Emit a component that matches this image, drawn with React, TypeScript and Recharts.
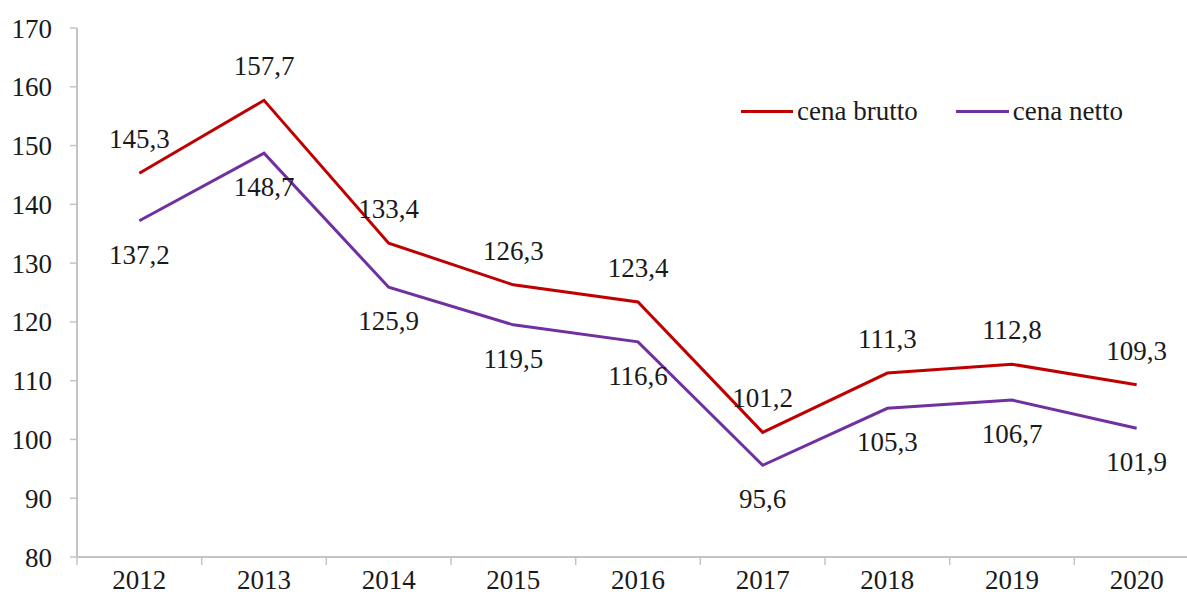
import React from 'react';
import { LineChart, Line, XAxis, YAxis, LabelList } from 'recharts';

const years = ['2012', '2013', '2014', '2015', '2016', '2017', '2018', '2019', '2020'];
const brutto = [145.3, 157.7, 133.4, 126.3, 123.4, 101.2, 111.3, 112.8, 109.3];
const netto = [137.2, 148.7, 125.9, 119.5, 116.6, 95.6, 105.3, 106.7, 101.9];
const yTicks = [80, 90, 100, 110, 120, 130, 140, 150, 160, 170];

const data = years.map((year, i) => ({ year, brutto: brutto[i], netto: netto[i] }));

const FONT = 'Liberation Serif, Times New Roman, serif';
const AXIS = '#c4c4c4';
const RED = '#c00000';
const PURPLE = '#7030a0';
const TEXT = '#1a1a1a';
const CHART_W = 1200;
const PLOT_LEFT = 77;
const BAND = (CHART_W - 1 - PLOT_LEFT) / years.length;

const fmt = (v: any) => String(v).replace('.', ',');

const YearTick = (props: any) => {
  const { x, y, payload } = props;
  const bx = x - BAND / 2;
  return (
    <g>
      <line x1={bx} y1={y} x2={bx} y2={y + 8} stroke={AXIS} strokeWidth={1.5} />
      <text x={x} y={y + 32} textAnchor="middle" fontSize={27} fontFamily={FONT} fill={TEXT}>
        {payload.value}
      </text>
    </g>
  );
};

const LegendBox = () => (
  <div
    style={{
      position: 'absolute',
      left: 741,
      top: 96,
      display: 'flex',
      alignItems: 'center',
      fontFamily: FONT,
      fontSize: 27,
      color: TEXT,
      whiteSpace: 'nowrap',
    }}
  >
    <span style={{ width: 52, height: 3, background: RED, marginRight: 4 }} />
    <span style={{ marginRight: 38 }}>cena brutto</span>
    <span style={{ width: 53, height: 3, background: PURPLE, marginRight: 4 }} />
    <span>cena netto</span>
  </div>
);

export default function App() {
  return (
    <div style={{ position: 'fixed', left: 0, top: 0, width: 1187, height: 602, overflow: 'hidden', background: '#fff' }}>
      <LineChart width={CHART_W} height={602} data={data} margin={{ top: 28, right: 1, left: 0, bottom: 0 }}>
        <XAxis
          dataKey="year"
          scale="band"
          height={45}
          axisLine={{ stroke: AXIS, strokeWidth: 2 }}
          tickLine={false}
          tickSize={0}
          tickMargin={0}
          tick={<YearTick />}
          interval={0}
        />
        <YAxis
          width={PLOT_LEFT}
          domain={[80, 170]}
          ticks={yTicks}
          interval={0}
          axisLine={{ stroke: AXIS, strokeWidth: 2 }}
          tickLine={{ stroke: AXIS, strokeWidth: 1.5 }}
          tickSize={7}
          tickMargin={18}
          tick={{ fontSize: 27, fontFamily: FONT, fill: TEXT }}
        />
        <Line type="linear" dataKey="brutto" stroke={RED} strokeWidth={3} dot={false} isAnimationActive={false}>
          <LabelList dataKey="brutto" position="top" offset={25} formatter={fmt} fontSize={27} fontFamily={FONT} fill={TEXT} />
        </Line>
        <Line type="linear" dataKey="netto" stroke={PURPLE} strokeWidth={3} dot={false} isAnimationActive={false}>
          <LabelList dataKey="netto" position="bottom" offset={24} formatter={fmt} fontSize={27} fontFamily={FONT} fill={TEXT} />
        </Line>
      </LineChart>
      <LegendBox />
    </div>
  );
}
